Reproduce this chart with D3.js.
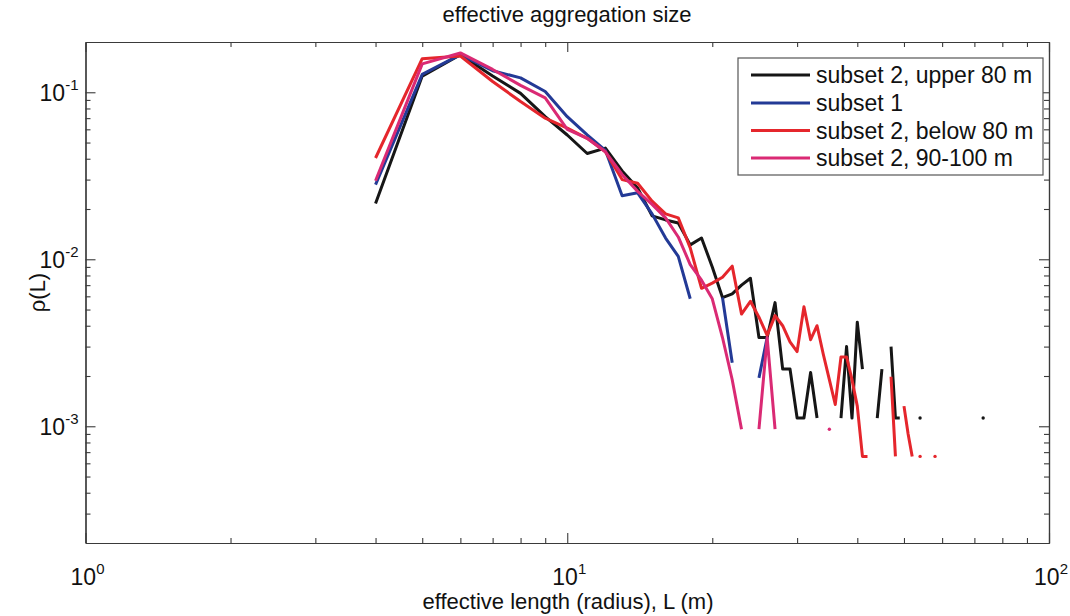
<!DOCTYPE html>
<html>
<head>
<meta charset="utf-8">
<script src="https://cdn.jsdelivr.net/npm/d3@7"></script>
<style>
  body { margin: 0; background: #fff; }
  svg { display: block; }
  text { font-family: "Liberation Sans", Arial, Helvetica, sans-serif; fill: #111; }
</style>
</head>
<body>
<svg id="chart" width="1070" height="616"></svg>
<script>
// Effective length bins L (m)
const lengths = [
   4,  5,  6,  7,  8,  9, 10, 11, 12, 13,
  14, 15, 16, 17, 18, 19, 20, 21, 22, 23,
  24, 25, 26, 27, 28, 29, 30, 31, 32, 33,
  34, 35, 36, 37, 38, 39, 40, 41, 42, 43,
  44, 45, 46, 47, 48, 49, 50, 51, 52, 53,
  54, 55, 56, 57, 58, 59, 60, 61, 62, 63,
  64, 65, 66, 67, 68, 69, 70, 71, 72, 73
];

// rho(L) per bin; null = empty bin (not drawn on log axis)
const upper80 = [
  0.0216, 0.125, 0.168, 0.125, 0.0985, 0.0714, 0.0555, 0.0430, 0.0463, 0.0338,
  0.0267, 0.0182, 0.0172, 0.0165, 0.0122, 0.0134, 0.0090, 0.0059, 0.0062, 0.0070,
  0.0077, 0.0034, 0.0034, 0.0055, 0.0022, 0.0022, 0.00112, 0.00112, 0.0021, 0.00112,
  null, null, null, 0.00112, 0.0030, 0.00112, 0.0042, 0.0022, null, null,
  0.00112, 0.0022, null, 0.0030, 0.00112, 0.00112, null, null, null, null,
  0.00112, null, null, null, null, null, null, null, null, null,
  null, null, null, null, null, null, null, null, null, 0.00112
];

const subset1 = [
  0.028, 0.128, 0.168, 0.1345, 0.122, 0.101, 0.0714, 0.0555, 0.0449, 0.0240,
  0.0250, 0.0187, 0.0134, 0.0104, 0.0058, null, null, 0.0059, 0.0024, null,
  null, 0.00195, 0.0034, null, null, null, null, null, null, null,
  null, null, null, null, null, null, null, null, null, null,
  null, null, null, null, null, null, null, null, null, null,
  null, null, null, null, null, null, null, null, null, null,
  null, null, null, null, null, null, null, null, null, null
];

const below80 = [
  0.0404, 0.159, 0.165, 0.116, 0.088, 0.070, 0.061, 0.053, 0.044, 0.030,
  0.0285, 0.0223, 0.0187, 0.0177, 0.0117, 0.0067, 0.0072, 0.0078, 0.0091, 0.0047,
  0.0056, 0.0045, 0.0035, 0.0046, 0.0040, 0.0032, 0.0028, 0.0052, 0.0033, 0.0040,
  0.0027, 0.0019, 0.00135, 0.0026, 0.0026, 0.0019, 0.00132, 0.00066, 0.00066, null,
  null, null, null, 0.00198, 0.00066, null, 0.00132, 0.0009, 0.00066, null,
  0.00066, null, null, null, 0.00066, null, null, null, null, null,
  null, null, null, null, null, null, null, null, null, null
];

const depth90to100 = [
  0.0295, 0.148, 0.172, 0.137, 0.110, 0.0925, 0.060, 0.053, 0.044, 0.0322,
  0.0255, 0.0213, 0.0177, 0.0136, 0.0093, 0.0075, 0.0058, 0.0034, 0.0019, 0.00096,
  null, 0.00096, 0.0034, 0.00096, null, null, null, null, null, null,
  null, 0.00096, null, null, null, null, null, null, null, null,
  null, null, null, null, null, null, null, null, null, null,
  null, null, null, null, null, null, null, null, null, null,
  null, null, null, null, null, null, null, null, null, null
];

const seriesNames  = ["subset 2, upper 80 m", "subset 1", "subset 2, below 80 m", "subset 2, 90-100 m"];
const seriesValues = [upper80, subset1, below80, depth90to100];
const seriesColors = ["#161616", "#233a96", "#e5262c", "#da2a74"];

const xMajor = [1, 10, 100];
const xMajorExp = ["0", "1", "2"];
const yMajor = [0.001, 0.01, 0.1];
const yMajorExp = ["-3", "-2", "-1"];

const chartTitle = "effective aggregation size";
const xTitle = "effective length (radius), L (m)";
const yTitle = "\u03C1(L)";

(function draw() {
  const svg = d3.select("#chart");
  const pL = 85.5, pR = 1049, pT = 42, pB = 543;
  const axisColor = "#3a3a3a";

  const x = d3.scaleLog().domain([1, 100]).range([pL, pR]);
  const y = d3.scaleLog().domain([2e-4, 0.2]).range([pB, pT]);

  function minorTicks(lo, hi) {
    const out = [];
    for (let e = Math.floor(Math.log10(lo)); e <= Math.ceil(Math.log10(hi)); e++) {
      for (let m = 2; m <= 9; m++) {
        const v = m * Math.pow(10, e);
        if (v > lo * 1.0001 && v < hi * 0.9999) out.push(v);
      }
    }
    return out;
  }
  const xMinor = minorTicks(1, 100);
  const yMinor = minorTicks(2e-4, 0.2);

  svg.append("rect").attr("x", pL).attr("y", pT)
    .attr("width", pR - pL).attr("height", pB - pT).attr("fill", "#fff");

  // ---- series ----
  const plot = svg.append("g");
  const line = d3.line()
    .defined(d => d.v != null)
    .x(d => x(d.L))
    .y(d => y(d.v));

  seriesValues.forEach((vals, k) => {
    const pts = lengths.map((L, i) => ({ L, v: vals[i] }));
    plot.append("path")
      .datum(pts)
      .attr("fill", "none")
      .attr("stroke", seriesColors[k])
      .attr("stroke-width", 3)
      .attr("stroke-linejoin", "round")
      .attr("d", line);
    // bins with no non-empty neighbour show up as single dots
    const lone = pts.filter((p, i) => p.v != null &&
      (i === 0 || pts[i - 1].v == null) &&
      (i === pts.length - 1 || pts[i + 1].v == null));
    plot.selectAll(null).data(lone).enter().append("circle")
      .attr("cx", d => x(d.L)).attr("cy", d => y(d.v)).attr("r", 1.7)
      .attr("fill", seriesColors[k]);
  });

  // ---- axes (ticks inside, box on all four sides) ----
  function styleAxis(g) {
    g.selectAll("path.domain").attr("stroke", axisColor).attr("stroke-width", 1.2);
    g.selectAll(".tick line").attr("stroke", axisColor).attr("stroke-width", 1.1);
    g.selectAll(".tick text").remove();
  }
  const fmt = () => "";
  [[d3.axisBottom, pB], [d3.axisTop, pT]].forEach(([ax, pos]) => {
    svg.append("g").attr("transform", `translate(0,${pos})`)
      .call(ax(x).tickValues(xMinor).tickSize(-5).tickSizeOuter(0).tickFormat(fmt)).call(styleAxis);
    svg.append("g").attr("transform", `translate(0,${pos})`)
      .call(ax(x).tickValues(xMajor).tickSize(-10).tickSizeOuter(0).tickFormat(fmt)).call(styleAxis);
  });
  [[d3.axisLeft, pL], [d3.axisRight, pR]].forEach(([ax, pos]) => {
    svg.append("g").attr("transform", `translate(${pos},0)`)
      .call(ax(y).tickValues(yMinor).tickSize(-5).tickSizeOuter(0).tickFormat(fmt)).call(styleAxis);
    svg.append("g").attr("transform", `translate(${pos},0)`)
      .call(ax(y).tickValues(yMajor).tickSize(-10).tickSizeOuter(0).tickFormat(fmt)).call(styleAxis);
  });

  // ---- tick labels as powers of ten ----
  function powerLabel(g, exp) {
    g.append("tspan").text("10");
    g.append("tspan").attr("dy", -11).attr("font-size", 15).text(exp);
  }
  xMajor.forEach((v, i) => {
    svg.append("text")
      .attr("x", x(v) + 2).attr("y", pB + 42)
      .attr("text-anchor", "middle").attr("font-size", 23)
      .call(powerLabel, xMajorExp[i]);
  });
  yMajor.forEach((v, i) => {
    svg.append("text")
      .attr("x", pL - 7).attr("y", y(v) + 9)
      .attr("text-anchor", "end").attr("font-size", 23)
      .call(powerLabel, yMajorExp[i]);
  });

  // ---- titles ----
  svg.append("text").attr("x", 567).attr("y", 22)
    .attr("text-anchor", "middle").attr("font-size", 22).text(chartTitle);
  svg.append("text").attr("x", 568).attr("y", 609)
    .attr("text-anchor", "middle").attr("font-size", 22).text(xTitle);
  svg.append("text")
    .attr("transform", `translate(45,${(pT + pB) / 2}) rotate(-90)`)
    .attr("text-anchor", "middle").attr("font-size", 22).text(yTitle);

  // ---- legend ----
  const lg = svg.append("g");
  const lgX = 738, lgY = 58, lgW = 305, lgH = 117;
  lg.append("rect").attr("x", lgX).attr("y", lgY).attr("width", lgW).attr("height", lgH)
    .attr("fill", "#fff").attr("stroke", "#555").attr("stroke-width", 1.2);
  const rowY = [75, 103, 130.5, 158];
  seriesNames.forEach((name, k) => {
    lg.append("line")
      .attr("x1", 751).attr("x2", 810).attr("y1", rowY[k]).attr("y2", rowY[k])
      .attr("stroke", seriesColors[k]).attr("stroke-width", 3);
    lg.append("text").attr("x", 816).attr("y", rowY[k] + 8)
      .attr("font-size", 23).text(name);
  });
})();
</script>
</body>
</html>
